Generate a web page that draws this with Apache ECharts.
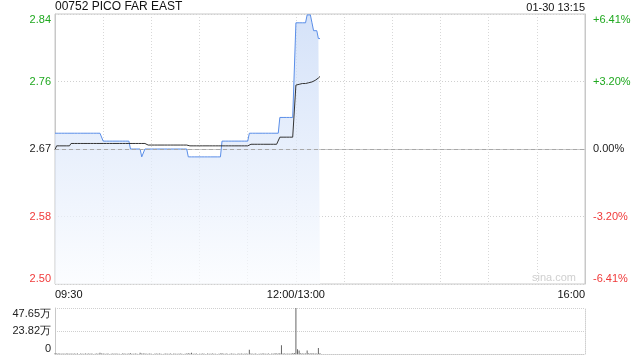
<!DOCTYPE html>
<html><head><meta charset="utf-8">
<script src="https://cdn.jsdelivr.net/npm/echarts@6/dist/echarts.min.js"></script>
<style>html,body{margin:0;padding:0;background:#fff}#c{width:640px;height:360px}</style>
</head><body><div id="c"></div>
<script>
const titleText = '00752 PICO FAR EAST';
const stampText = '01-30 13:15';
const prevClose = 2.67;
const axisPct = 6.41;
const priceTicks = ['2.50', '2.58', '2.67', '2.76', '2.84'];
const pctTicks = ['-6.41%', '-3.20%', '0.00%', '+3.20%', '+6.41%'];
const timeTicks = ['09:30', '12:00/13:00', '16:00'];
const timeTickAt = [0, 150, 330];
const volTicks = ['0', '23.82万', '47.65万'];
const volMax = 476500;

// minute-by-minute price, 09:30 .. 13:15 (index 150 = 12:00/13:00)
const price = [
  2.69,2.69,2.69,2.69,2.69,2.69,2.69,2.69,2.69,2.69,
  2.69,2.69,2.69,2.69,2.69,2.69,2.69,2.69,2.69,2.69,
  2.69,2.69,2.69,2.69,2.69,2.69,2.69,2.69,2.69,2.69,
  2.68,2.68,2.68,2.68,2.68,2.68,2.68,2.68,2.68,2.68,
  2.68,2.68,2.68,2.68,2.68,2.68,2.68,2.67,2.67,2.67,
  2.67,2.67,2.67,2.67,2.66,2.66,2.67,2.67,2.67,2.67,
  2.67,2.67,2.67,2.67,2.67,2.67,2.67,2.67,2.67,2.67,
  2.67,2.67,2.67,2.67,2.67,2.67,2.67,2.67,2.67,2.67,
  2.67,2.67,2.67,2.66,2.66,2.66,2.66,2.66,2.66,2.66,
  2.66,2.66,2.66,2.66,2.66,2.66,2.66,2.66,2.66,2.66,
  2.66,2.66,2.66,2.66,2.68,2.68,2.68,2.68,2.68,2.68,
  2.68,2.68,2.68,2.68,2.68,2.68,2.68,2.68,2.68,2.68,
  2.68,2.69,2.69,2.69,2.69,2.69,2.69,2.69,2.69,2.69,
  2.69,2.69,2.69,2.69,2.69,2.69,2.69,2.69,2.69,2.69,
  2.71,2.71,2.71,2.71,2.71,2.71,2.71,2.71,2.71,2.71,
  2.83,2.83,2.83,2.83,2.83,2.83,2.83,2.84,2.84,2.84,
  2.83,2.82,2.82,2.82,2.81,2.81
];
const avgPrice = [
  2.669,2.674,2.674,2.674,2.674,2.674,2.674,2.674,2.674,2.674,
  2.677,2.677,2.677,2.677,2.677,2.677,2.677,2.677,2.677,2.677,
  2.677,2.677,2.677,2.677,2.677,2.677,2.677,2.677,2.677,2.677,
  2.677,2.677,2.677,2.677,2.677,2.677,2.677,2.677,2.677,2.677,
  2.677,2.677,2.677,2.677,2.677,2.677,2.677,2.677,2.677,2.677,
  2.677,2.677,2.677,2.677,2.677,2.677,2.677,2.675,2.675,2.675,
  2.675,2.675,2.675,2.675,2.675,2.675,2.675,2.675,2.675,2.675,
  2.675,2.675,2.675,2.675,2.675,2.675,2.675,2.675,2.675,2.675,
  2.675,2.675,2.675,2.674,2.674,2.674,2.674,2.674,2.674,2.674,
  2.674,2.674,2.674,2.674,2.674,2.674,2.674,2.674,2.674,2.674,
  2.674,2.674,2.674,2.674,2.674,2.674,2.674,2.674,2.674,2.674,
  2.674,2.674,2.674,2.674,2.674,2.674,2.674,2.674,2.674,2.674,
  2.674,2.676,2.676,2.676,2.676,2.676,2.676,2.676,2.676,2.676,
  2.676,2.676,2.676,2.676,2.676,2.676,2.676,2.676,2.676,2.676,
  2.685,2.685,2.685,2.685,2.685,2.685,2.685,2.685,2.685,2.685,
  2.751,2.752,2.752,2.753,2.753,2.753,2.753,2.754,2.754,2.755,
  2.755,2.756,2.757,2.758,2.760,2.762
];
const volume = [
  9000,6000,4000,5000,3000,6000,2000,4000,5000,3000,
  4000,2000,6000,3000,5000,0,4000,2000,3000,6000,
  2000,4000,3000,5000,0,3000,4000,2000,14000,5000,
  6000,3000,2000,4000,0,3000,5000,2000,4000,3000,
  2000,0,4000,6000,3000,2000,5000,7000,3000,2000,
  4000,3000,0,13000,6000,5000,4000,3000,2000,4000,
  3000,0,2000,4000,3000,5000,2000,0,3000,4000,
  2000,3000,5000,0,4000,2000,3000,2000,4000,3000,
  0,2000,5000,8000,4000,12000,3000,2000,4000,0,
  3000,2000,4000,3000,0,5000,2000,3000,4000,2000,
  3000,0,2000,4000,7000,3000,2000,5000,0,3000,
  4000,2000,3000,0,5000,2000,4000,3000,2000,6000,
  3000,44000,5000,3000,2000,4000,0,3000,2000,5000,
  4000,2000,3000,6000,0,4000,3000,8000,5000,6000,
  9000,91000,6000,4000,3000,5000,2000,4000,7000,10000,
  476500,50000,35000,8000,6000,4000,5000,35000,7000,6000,
  9000,5000,6000,4000,63000,8000
];

const FONT = '"Liberation Sans", Arial, sans-serif';
const GREEN = '#1fa81f', RED = '#f03a3a', BLACK = '#222';
const toPct = p => (p - prevClose) / prevClose * 100;
const priceData = price.map((p, i) => [i, toPct(p)]);
const avgData = avgPrice.map((p, i) => [i, toPct(p)]);
const volData = volume.map((v, i) => [i, v]);
const pctColor = v => { v = parseFloat(v); return v > 1e-9 ? GREEN : (v < -1e-9 ? RED : BLACK); };

const chart = echarts.init(document.getElementById('c'), null, {renderer: 'canvas'});
chart.setOption({
  animation: false,
  backgroundColor: '#fff',
  textStyle: {fontFamily: FONT},
  grid: [
    {left: 55, right: 55, top: 14, height: 270, show: true, borderColor: '#c8c8c8', borderWidth: 1, backgroundColor: 'transparent'},
    {left: 55, right: 55, top: 308, height: 46}
  ],
  graphic: [
    {type: 'text', left: 55, top: 1, style: {text: titleText, font: '12px ' + FONT, fill: '#111'}},
    {type: 'text', right: 55, top: 2, style: {text: stampText, font: '11px ' + FONT, fill: '#111'}},
    {type: 'text', right: 64, top: 272, z: 1, style: {text: 'sina.com', font: '11px ' + FONT, fill: '#cfcfcf'}}
  ],
  xAxis: [
    {
      type: 'value', gridIndex: 0, min: 0, max: 330, interval: 30,
      axisLine: {show: true, lineStyle: {color: '#c8c8c8'}},
      axisTick: {show: false},
      splitLine: {show: true, lineStyle: {color: '#d8d8d8', type: [1, 2]}},
      axisLabel: {
        show: true, margin: 5, fontSize: 11, color: '#111', fontFamily: FONT,
        showMinLabel: true, showMaxLabel: true,
        alignMinLabel: 'left', alignMaxLabel: 'right',
        formatter: v => { const k = timeTickAt.indexOf(Math.round(v)); return k >= 0 ? timeTicks[k] : ''; }
      }
    },
    {
      type: 'value', gridIndex: 1, min: 0, max: 330, interval: 30,
      axisLine: {show: true, lineStyle: {color: '#c8c8c8', type: [1, 1]}},
      axisTick: {show: false}, axisLabel: {show: false}, splitLine: {show: false}
    }
  ],
  yAxis: [
    {
      type: 'value', gridIndex: 0, position: 'left', min: -axisPct, max: axisPct, interval: axisPct / 2,
      axisLine: {show: true, lineStyle: {color: '#c8c8c8'}},
      axisTick: {show: false},
      splitLine: {show: true, lineStyle: {color: '#d0d0d0', type: [1, 2]}},
      axisLabel: {
        margin: 4, fontSize: 11, fontFamily: FONT,
        verticalAlignMinLabel: 'bottom', verticalAlignMaxLabel: 'top',
        formatter: (v, i) => priceTicks[i],
        color: v => pctColor(v)
      }
    },
    {
      type: 'value', gridIndex: 0, position: 'right', min: -axisPct, max: axisPct, interval: axisPct / 2,
      axisLine: {show: true, lineStyle: {color: '#c8c8c8'}},
      axisTick: {show: false}, splitLine: {show: false},
      axisLabel: {
        margin: 8, fontSize: 11, fontFamily: FONT,
        verticalAlignMinLabel: 'bottom', verticalAlignMaxLabel: 'top',
        formatter: (v, i) => pctTicks[i],
        color: v => pctColor(v)
      }
    },
    {
      type: 'value', gridIndex: 1, position: 'left', min: 0, max: volMax, interval: volMax / 2,
      axisLine: {show: true, lineStyle: {color: '#c8c8c8'}},
      axisTick: {show: false},
      splitLine: {show: true, lineStyle: {color: '#cfcfcf', type: [1, 1]}},
      axisLabel: {
        margin: 4, fontSize: 11, color: '#222', fontFamily: FONT,
        verticalAlignMinLabel: 'bottom', verticalAlignMaxLabel: 'top',
        formatter: (v, i) => volTicks[i]
      }
    },
    {
      type: 'value', gridIndex: 1, position: 'right', min: 0, max: volMax, interval: volMax / 2,
      axisLine: {show: true, lineStyle: {color: '#cfcfcf', type: [1, 1]}},
      axisTick: {show: false}, splitLine: {show: false}, axisLabel: {show: false}
    }
  ],
  series: [
    {
      name: 'price', type: 'line', xAxisIndex: 0, yAxisIndex: 0, data: priceData,
      symbol: 'none', smooth: false,
      lineStyle: {color: '#5a8ee8', width: 1},
      areaStyle: {
        origin: 'start',
        color: new echarts.graphic.LinearGradient(0, 0, 0, 1, [
          {offset: 0, color: '#c3d6f6'},
          {offset: 1, color: '#fafcff'}
        ])
      },
      markLine: {
        silent: true, symbol: 'none', label: {show: false},
        lineStyle: {color: '#a8a8a8', type: [4, 3], width: 1},
        data: [{yAxis: 0}]
      },
      z: 3
    },
    {
      name: 'avg', type: 'line', xAxisIndex: 0, yAxisIndex: 0, data: avgData,
      symbol: 'none', lineStyle: {color: '#333', width: 1}, z: 4
    },
    {
      name: 'vol', type: 'bar', xAxisIndex: 1, yAxisIndex: 2, data: volData,
      barWidth: 1, itemStyle: {color: '#666'}
    }
  ]
});
</script>
</body></html>
